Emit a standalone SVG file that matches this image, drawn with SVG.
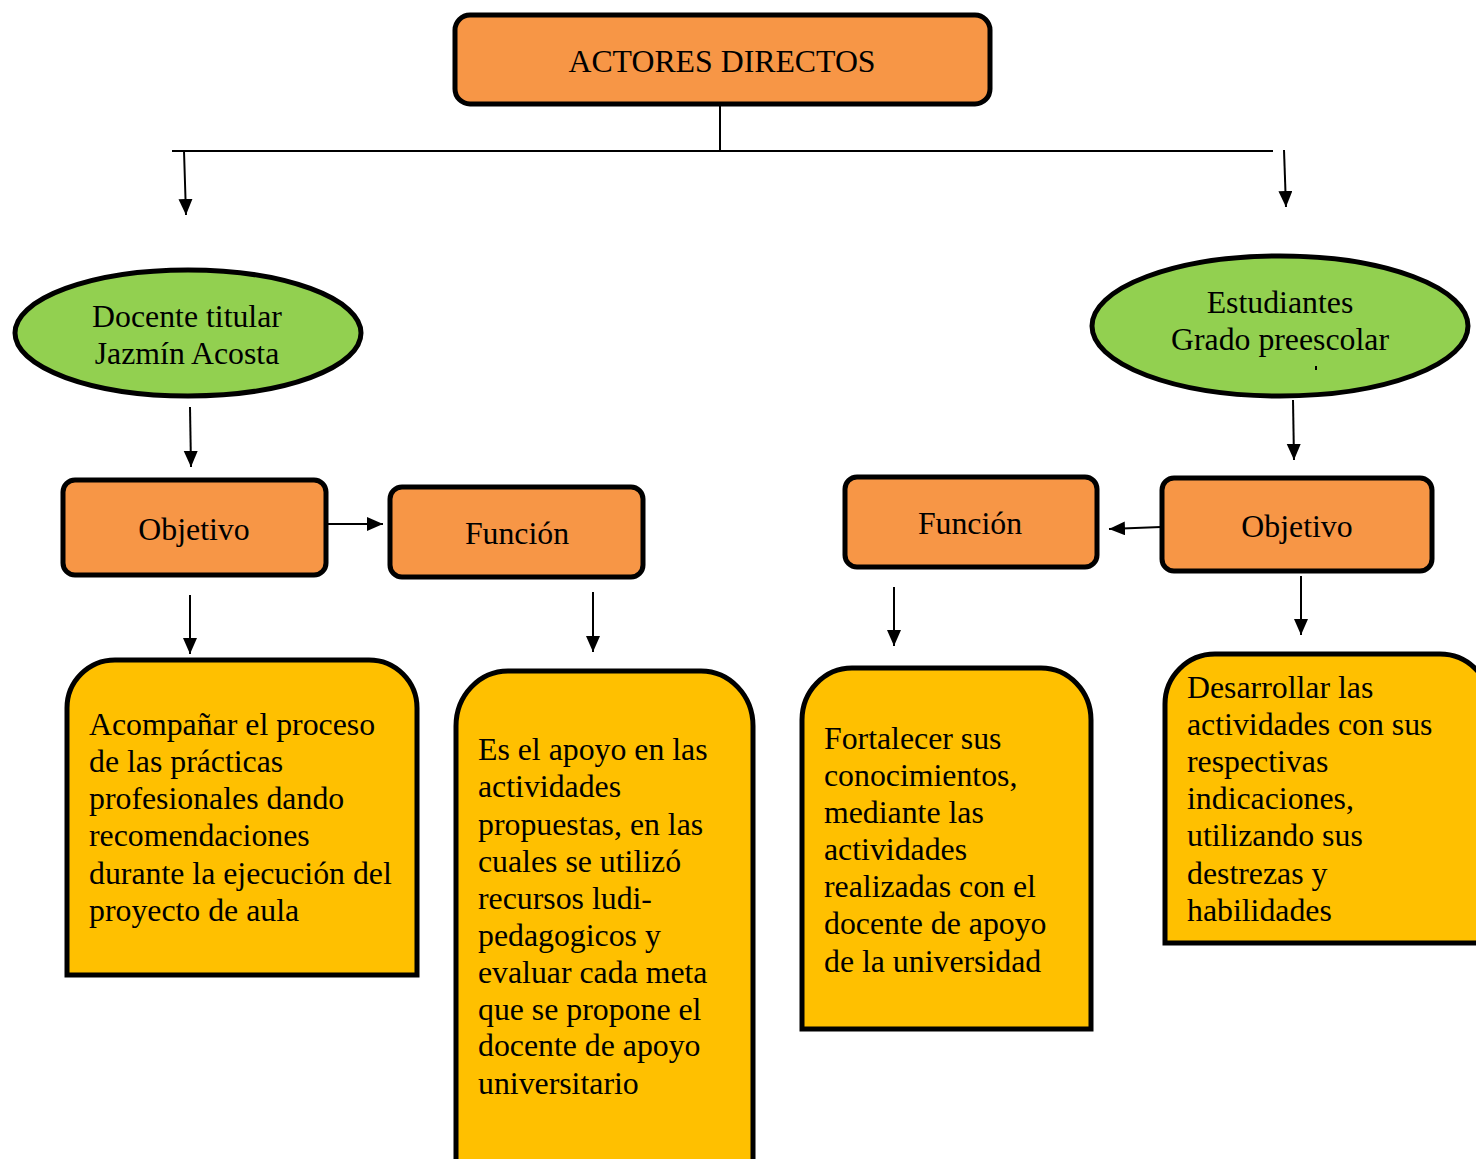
<svg xmlns="http://www.w3.org/2000/svg" width="1476" height="1159" viewBox="0 0 1476 1159">
<style>
text{font-family:"Liberation Serif","Times New Roman",serif;font-size:31.8px;fill:#000}
.c{text-anchor:middle}
.box{fill:#F79646;stroke:#000;stroke-width:5}
.ell{fill:#92D050;stroke:#000;stroke-width:5}
.note{fill:#FFC000;stroke:#000;stroke-width:5}
.ln{fill:none;stroke:#000;stroke-width:2}
.ar{fill:none;stroke:#000;stroke-width:2;marker-end:url(#ah)}
</style>
<defs>
<marker id="ah" markerUnits="userSpaceOnUse" markerWidth="17" markerHeight="16" refX="16" refY="7" orient="auto">
<path d="M0,0 L16,7 L0,14 Z" fill="#000"/>
</marker>
</defs>
<rect width="1476" height="1159" fill="#fff"/>
<g id="connectors">
<line class="ln" x1="720" y1="104" x2="720" y2="150"/>
<line class="ln" x1="172" y1="151" x2="1273" y2="151"/>
<line class="ar" x1="184" y1="151" x2="186" y2="215"/>
<line class="ar" x1="1284" y1="150" x2="1286" y2="207"/>
<line class="ar" x1="190" y1="407" x2="191" y2="467"/>
<line class="ar" x1="1293" y1="400" x2="1294" y2="460"/>
<line class="ar" x1="328" y1="524" x2="383" y2="524"/>
<line class="ar" x1="1161" y1="527" x2="1109" y2="529"/>
<line class="ar" x1="190" y1="595" x2="190" y2="654"/>
<line class="ar" x1="593" y1="592" x2="593" y2="652"/>
<line class="ar" x1="894" y1="587" x2="894" y2="646"/>
<line class="ar" x1="1301" y1="576" x2="1301" y2="635"/>
</g>
<g id="actores">
<rect class="box" x="455" y="15" width="535" height="89" rx="15"/>
<text class="c" x="722" y="72">ACTORES DIRECTOS</text>
</g>
<g id="docente">
<ellipse class="ell" cx="188" cy="333" rx="173" ry="63"/>
<text class="c" x="187" y="327">Docente titular</text>
<text class="c" x="187" y="364">Jazmín Acosta</text>
</g>
<g id="estudiantes">
<ellipse class="ell" cx="1280" cy="326" rx="188" ry="70"/>
<text class="c" x="1280" y="313">Estudiantes</text>
<text class="c" x="1280" y="350">Grado preescolar</text>
<line x1="1316" y1="366" x2="1316" y2="370" stroke="#000" stroke-width="2"/>
</g>
<g id="objetivo-izq">
<rect class="box" x="63" y="480" width="263" height="95" rx="12"/>
<text class="c" x="194" y="540">Objetivo</text>
</g>
<g id="funcion-izq">
<rect class="box" x="390" y="487" width="253" height="90" rx="12"/>
<text class="c" x="517" y="544">Función</text>
</g>
<g id="funcion-der">
<rect class="box" x="845" y="477" width="252" height="90" rx="12"/>
<text class="c" x="970" y="534">Función</text>
</g>
<g id="objetivo-der">
<rect class="box" x="1162" y="478" width="270" height="93" rx="12"/>
<text class="c" x="1297" y="537">Objetivo</text>
</g>
<g id="nota1">
<path class="note" d="M67,975 V708 A48,48 0 0 1 115,660 H369 A48,48 0 0 1 417,708 V975 Z"/>
<text x="89" y="735">Acompañar el proceso</text>
<text x="89" y="772">de las prácticas</text>
<text x="89" y="809">profesionales dando</text>
<text x="89" y="846">recomendaciones</text>
<text x="89" y="884">durante la ejecución del</text>
<text x="89" y="921">proyecto de aula</text>
</g>
<g id="nota2">
<path class="note" d="M456,1175 V726 A52,55 0 0 1 508,671 H701 A52,55 0 0 1 753,726 V1175 Z"/>
<text x="478" y="760">Es el apoyo en las</text>
<text x="478" y="797">actividades</text>
<text x="478" y="835">propuestas, en las</text>
<text x="478" y="872">cuales se utilizó</text>
<text x="478" y="909">recursos ludi-</text>
<text x="478" y="946">pedagogicos y</text>
<text x="478" y="983">evaluar cada meta</text>
<text x="478" y="1020">que se propone el</text>
<text x="478" y="1056">docente de apoyo</text>
<text x="478" y="1094">universitario</text>
</g>
<g id="nota3">
<path class="note" d="M802,1029 V720 A50,52 0 0 1 852,668 H1041 A50,52 0 0 1 1091,720 V1029 Z"/>
<text x="824" y="749">Fortalecer sus</text>
<text x="824" y="786">conocimientos,</text>
<text x="824" y="823">mediante las</text>
<text x="824" y="860">actividades</text>
<text x="824" y="897">realizadas con el</text>
<text x="824" y="934">docente de apoyo</text>
<text x="824" y="972">de la universidad</text>
</g>
<g id="nota4">
<path class="note" d="M1165,943 V704 A50,50 0 0 1 1215,654 H1440 A50,50 0 0 1 1490,704 V943 Z"/>
<text x="1187" y="698">Desarrollar las</text>
<text x="1187" y="735">actividades con sus</text>
<text x="1187" y="772">respectivas</text>
<text x="1187" y="809">indicaciones,</text>
<text x="1187" y="846">utilizando sus</text>
<text x="1187" y="884">destrezas y</text>
<text x="1187" y="921">habilidades</text>
</g>
</svg>
